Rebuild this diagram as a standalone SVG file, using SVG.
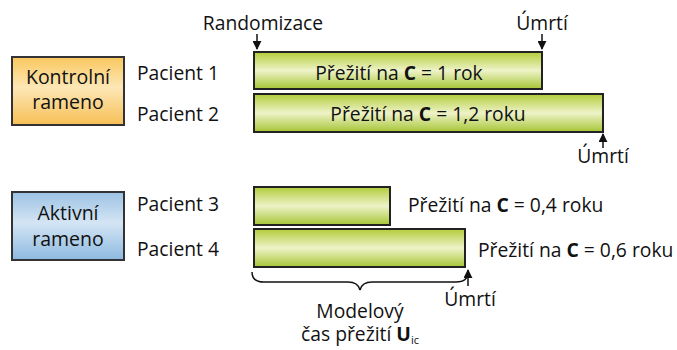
<svg xmlns="http://www.w3.org/2000/svg" width="677" height="350" viewBox="0 0 677 350">
<defs>
<linearGradient id="gOr" x1="0" y1="0" x2="0" y2="1">
<stop offset="0" stop-color="#f9c75e"/><stop offset="0.45" stop-color="#fde7b6"/><stop offset="1" stop-color="#f6bf55"/>
</linearGradient>
<linearGradient id="gBl" x1="0" y1="0" x2="0" y2="1">
<stop offset="0" stop-color="#9cc2e4"/><stop offset="0.45" stop-color="#d4e5f4"/><stop offset="1" stop-color="#8db9e0"/>
</linearGradient>
<linearGradient id="gGr" x1="0" y1="0" x2="0" y2="1">
<stop offset="0" stop-color="#b2cc3a"/><stop offset="0.5" stop-color="#eef3c8"/><stop offset="1" stop-color="#a6c535"/>
</linearGradient>
<marker id="ah" viewBox="0 0 10 10" refX="9" refY="5" markerWidth="9" markerHeight="9" markerUnits="userSpaceOnUse" orient="auto">
<path d="M0,0 L10,5 L0,10 Z" fill="#111"/>
</marker>
</defs>
<style>
text{font-family:"Open Sans","Noto Sans","DejaVu Sans",sans-serif;font-size:19.3px;fill:#111}
.arm{stroke:#333;stroke-width:2}
.armt{font-size:19.5px}
.bar{fill:url(#gGr);stroke:#222;stroke-width:2}
.c{text-anchor:middle}
.b{font-weight:bold}
.conn line{stroke:#111;stroke-width:1.5;marker-end:url(#ah)}
</style>
<rect width="677" height="350" fill="#fff"/>

<g id="kontrolni">
<rect class="arm" x="12" y="57" width="112" height="68" fill="url(#gOr)"/>
<text class="c armt" x="68" y="84">Kontrolní</text>
<text class="c armt" x="68" y="109">rameno</text>
</g>
<g id="aktivni">
<rect class="arm" x="12" y="192" width="112" height="68" fill="url(#gBl)"/>
<text class="c armt" x="68" y="220">Aktivní</text>
<text class="c armt" x="68" y="246">rameno</text>
</g>

<g id="labels">
<text x="137" y="80">Pacient 1</text>
<text x="137" y="121">Pacient 2</text>
<text x="137" y="211">Pacient 3</text>
<text x="137" y="256">Pacient 4</text>
<text class="c" x="263" y="30">Randomizace</text>
<text class="c" x="542" y="30">Úmrtí</text>
<text class="c" x="603" y="163">Úmrtí</text>
<text class="c" x="470" y="306">Úmrtí</text>
</g>

<g id="bar1">
<rect class="bar" x="254" y="52" width="288" height="37"/>
<text class="c" x="399" y="80">Přežití na <tspan class="b">C</tspan> = 1 rok</text>
</g>
<g id="bar2">
<rect class="bar" x="254" y="94" width="349" height="38"/>
<text class="c" x="428" y="121">Přežití na <tspan class="b">C</tspan> = 1,2 roku</text>
</g>
<g id="bar3">
<rect class="bar" x="254" y="187" width="136" height="38"/>
<text x="408" y="212">Přežití na <tspan class="b">C</tspan> = 0,4 roku</text>
</g>
<g id="bar4">
<rect class="bar" x="254" y="229" width="211" height="38"/>
<text x="478" y="257">Přežití na <tspan class="b">C</tspan> = 0,6 roku</text>
</g>

<g id="connectors" class="conn">
<line x1="257" y1="34" x2="257" y2="49"/>
<line x1="542" y1="34" x2="542" y2="49"/>
<line x1="603" y1="148" x2="603" y2="134"/>
<line x1="468" y1="286" x2="468" y2="270"/>
</g>

<g id="brace">
<path d="M252,272 Q252,282 264,282 L348,282 Q358,282 360,290 Q362,282 372,282 L456,282 Q468,282 468,272" fill="none" stroke="#111" stroke-width="1.5"/>
<text class="c" x="360" y="318">Modelový</text>
<text class="c" x="360" y="341">čas přežití <tspan class="b">U</tspan><tspan font-size="11" dy="3">ic</tspan></text>
</g>
</svg>
